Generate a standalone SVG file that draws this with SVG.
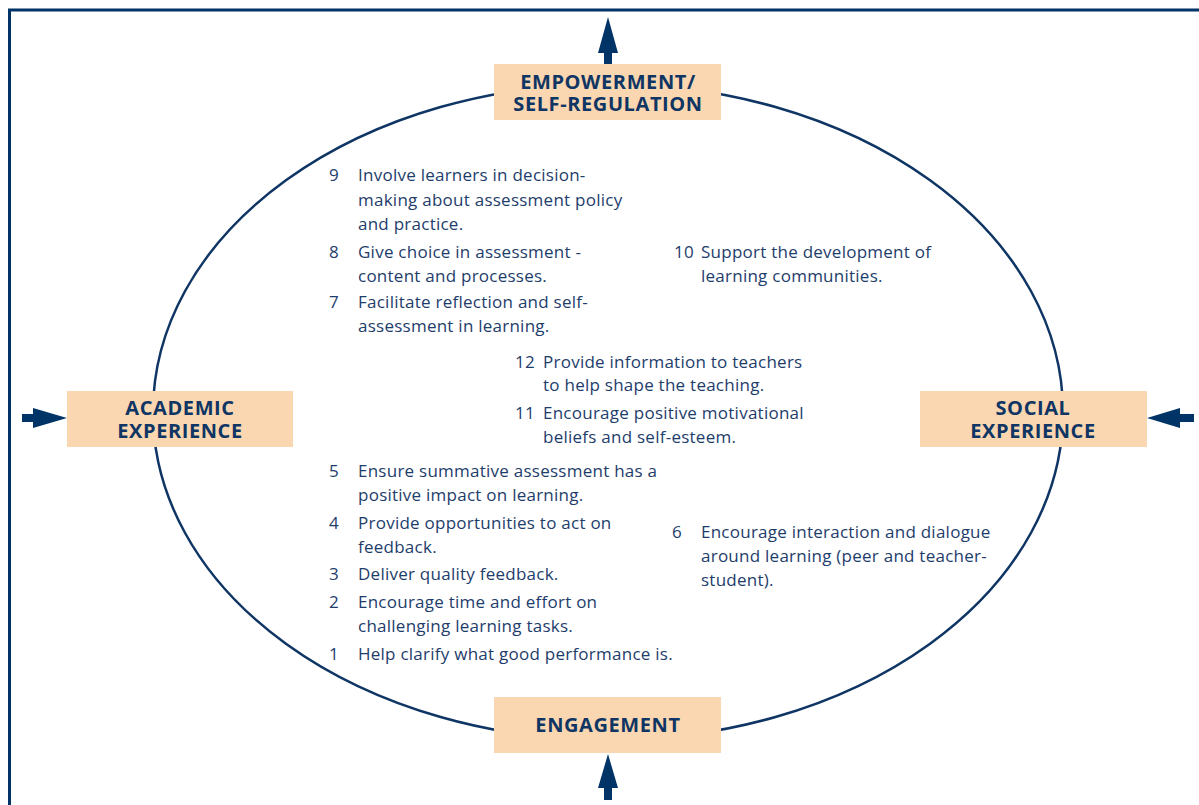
<svg xmlns="http://www.w3.org/2000/svg" width="1199" height="805" viewBox="0 0 1199 805">
<style>
.t{font-family:"Open Sans","Noto Sans",sans-serif;font-size:17px;letter-spacing:0.25px;fill:#1e3d6b}
.n{text-anchor:end}
.lb{font-family:"Open Sans","Noto Sans",sans-serif;font-size:20px;letter-spacing:0.6px;font-weight:bold;fill:#0f3564;text-anchor:middle}
.box{fill:#fad7b0}
.arr{fill:#003366}
</style>
<rect x="0" y="0" width="1199" height="805" fill="#fff"/>
<path d="M9.5 805 V10 H1199" fill="none" stroke="#003366" stroke-width="3"/>
<g id="connectors">
<ellipse cx="608" cy="412" rx="455" ry="328" fill="none" stroke="#0f3564" stroke-width="2.5"/>
<path class="arr" d="M604 64 V53 H598 L608 17 L618 53 H612 V64 Z"/>
<path class="arr" d="M22 414 H33 V408 L67 418 L33 428 V422 H22 Z"/>
<path class="arr" d="M1194 414 H1180 V408 L1147 418 L1180 428 V422 H1194 Z"/>
<path class="arr" d="M604 800 V788 H598 L608 754 L618 788 H612 V800 Z"/>
</g>
<g id="empowerment">
<rect class="box" x="494" y="64" width="227" height="56"/>
<text class="lb" x="608" y="89">EMPOWERMENT/</text>
<text class="lb" x="608" y="111">SELF-REGULATION</text>
</g>
<g id="academic">
<rect class="box" x="67" y="391" width="226" height="56"/>
<text class="lb" x="180" y="415">ACADEMIC</text>
<text class="lb" x="180" y="438">EXPERIENCE</text>
</g>
<g id="social">
<rect class="box" x="920" y="391" width="227" height="56"/>
<text class="lb" x="1033" y="415">SOCIAL</text>
<text class="lb" x="1033" y="438">EXPERIENCE</text>
</g>
<g id="engagement">
<rect class="box" x="494" y="697" width="227" height="56"/>
<text class="lb" x="608" y="732">ENGAGEMENT</text>
</g>
<g id="items">
<text class="t n" x="339" y="181">9</text>
<text class="t" x="358" y="181">Involve learners in decision-</text>
<text class="t" x="358" y="206">making about assessment policy</text>
<text class="t" x="358" y="230">and practice.</text>
<text class="t n" x="339" y="258">8</text>
<text class="t" x="358" y="258">Give choice in assessment -</text>
<text class="t" x="358" y="282">content and processes.</text>
<text class="t n" x="339" y="308">7</text>
<text class="t" x="358" y="308">Facilitate reflection and self-</text>
<text class="t" x="358" y="332">assessment in learning.</text>
<text class="t n" x="694" y="258">10</text>
<text class="t" x="701" y="258">Support the development of</text>
<text class="t" x="701" y="282">learning communities.</text>
<text class="t n" x="535" y="368">12</text>
<text class="t" x="543" y="368">Provide information to teachers</text>
<text class="t" x="543" y="391">to help shape the teaching.</text>
<text class="t n" x="535" y="419">11</text>
<text class="t" x="543" y="419">Encourage positive motivational</text>
<text class="t" x="543" y="443">beliefs and self-esteem.</text>
<text class="t n" x="339" y="477">5</text>
<text class="t" x="358" y="477">Ensure summative assessment has a</text>
<text class="t" x="358" y="501">positive impact on learning.</text>
<text class="t n" x="339" y="529">4</text>
<text class="t" x="358" y="529">Provide opportunities to act on</text>
<text class="t" x="358" y="553">feedback.</text>
<text class="t n" x="339" y="580">3</text>
<text class="t" x="358" y="580">Deliver quality feedback.</text>
<text class="t n" x="339" y="608">2</text>
<text class="t" x="358" y="608">Encourage time and effort on</text>
<text class="t" x="358" y="632">challenging learning tasks.</text>
<text class="t n" x="339" y="660">1</text>
<text class="t" x="358" y="660">Help clarify what good performance is.</text>
<text class="t n" x="682" y="538">6</text>
<text class="t" x="701" y="538">Encourage interaction and dialogue</text>
<text class="t" x="701" y="562">around learning (peer and teacher-</text>
<text class="t" x="701" y="586">student).</text>
</g>
</svg>
